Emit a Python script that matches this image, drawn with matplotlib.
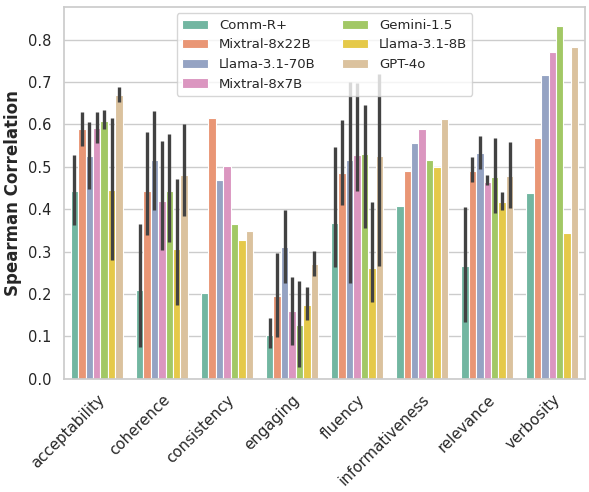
import numpy as np
import matplotlib
matplotlib.use("Agg")
import matplotlib.pyplot as plt
import seaborn as sns

sns.set_theme(style="whitegrid")
plt.rcParams['font.family'] = ['DejaVu Sans']

categories = ["acceptability", "coherence", "consistency", "engaging",
              "fluency", "informativeness", "relevance", "verbosity"]
models = ["Comm-R+", "Mixtral-8x22B", "Llama-3.1-70B", "Mixtral-8x7B",
          "Gemini-1.5", "Llama-3.1-8B", "GPT-4o"]

nan = np.nan
# mean values per model and category
means = {
    "Comm-R+":       [0.443, 0.209, 0.202, 0.104, 0.368, 0.408, 0.267, 0.439],
    "Mixtral-8x22B": [0.588, 0.443, 0.614, 0.196, 0.486, 0.489, 0.489, 0.569],
    "Llama-3.1-70B": [0.525, 0.517, 0.470, 0.310, 0.517, 0.557, 0.532, 0.716],
    "Mixtral-8x7B":  [0.591, 0.420, 0.502, 0.159, 0.528, 0.590, 0.465, 0.770],
    "Gemini-1.5":    [0.609, 0.443, 0.365, 0.128, 0.529, 0.517, 0.477, 0.833],
    "Llama-3.1-8B":  [0.445, 0.305, 0.328, 0.175, 0.261, 0.499, 0.417, 0.345],
    "GPT-4o":        [0.669, 0.480, 0.348, 0.271, 0.525, 0.612, 0.479, 0.783],
}
ci_low = {
    "Comm-R+":       [0.362, 0.075, nan, 0.072, 0.264, nan, 0.134, nan],
    "Mixtral-8x22B": [0.549, 0.338, nan, 0.098, 0.409, nan, 0.463, nan],
    "Llama-3.1-70B": [0.448, 0.399, nan, 0.226, 0.226, nan, 0.495, nan],
    "Mixtral-8x7B":  [0.557, 0.303, nan, 0.080, 0.443, nan, 0.458, nan],
    "Gemini-1.5":    [0.588, 0.322, nan, 0.028, 0.356, nan, 0.391, nan],
    "Llama-3.1-8B":  [0.280, 0.175, nan, 0.139, 0.181, nan, 0.399, nan],
    "GPT-4o":        [0.653, 0.383, nan, 0.243, 0.265, nan, 0.403, nan],
}
ci_high = {
    "Comm-R+":       [0.527, 0.364, nan, 0.143, 0.547, nan, 0.404, nan],
    "Mixtral-8x22B": [0.630, 0.583, nan, 0.297, 0.610, nan, 0.524, nan],
    "Llama-3.1-70B": [0.606, 0.631, nan, 0.399, 0.699, nan, 0.573, nan],
    "Mixtral-8x7B":  [0.628, 0.560, nan, 0.239, 0.698, nan, 0.481, nan],
    "Gemini-1.5":    [0.635, 0.578, nan, 0.231, 0.646, nan, 0.568, nan],
    "Llama-3.1-8B":  [0.616, 0.472, nan, 0.216, 0.417, nan, 0.440, nan],
    "GPT-4o":        [0.688, 0.602, nan, 0.302, 0.718, nan, 0.558, nan],
}

colors = sns.color_palette("Set2", len(models), desat=0.75)

fig = plt.figure(figsize=(5.89, 4.92), dpi=100)
ax = fig.add_axes([0.109, 0.230, 0.884, 0.756])

n = len(models)
w = 0.8 / n
x = np.arange(len(categories))
for i, m in enumerate(models):
    xi = x + (i - (n - 1) / 2) * w
    ax.bar(xi, means[m], width=w, color=colors[i], label=m, zorder=2,
           edgecolor="white", linewidth=0.8)
    lo = np.array(ci_low[m]); hi = np.array(ci_high[m])
    ok = ~np.isnan(lo)
    ax.vlines(xi[ok], lo[ok], hi[ok], color=".26", linewidth=2.4, zorder=3)

ax.set_xlim(-0.5, len(categories) - 0.5)
ax.set_ylim(0, 0.877)
yt = np.arange(0, 0.81, 0.1)
ax.set_yticks(yt)
ax.set_yticklabels([f"{v:.1f}" for v in yt], fontsize=10.5)
ax.set_xticks(x)
ax.set_xticklabels(categories, rotation=45, ha="right", rotation_mode="anchor",
                   fontsize=10.8)
ax.set_ylabel("Spearman Correlation", fontweight="bold", fontsize=12)
ax.xaxis.grid(False)
ax.legend(loc="upper center", ncol=2, fontsize=9.5, framealpha=0.8)

fig.savefig("out.png", dpi=100)
